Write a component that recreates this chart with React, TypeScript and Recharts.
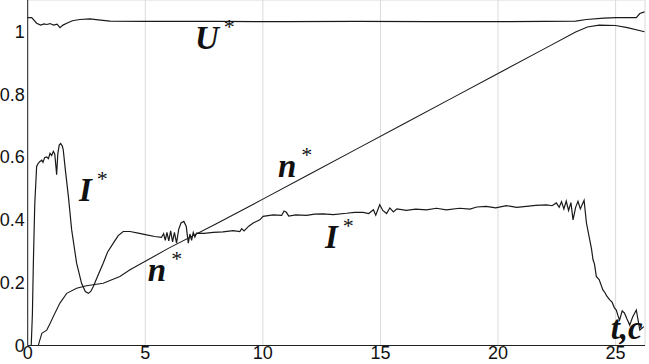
import { LineChart, Line, XAxis, YAxis, CartesianGrid, ReferenceDot } from 'recharts';

// time axis, s
const xTicks = [0, 5, 10, 15, 20, 25];
const yTicks = [0, 0.2, 0.4, 0.6, 0.8, 1];

// U* - voltage, pu
const uData = [
  [0, 1.044], [0.17, 1.044], [0.38, 1.026], [0.55, 1.02], [0.7, 1.024], [0.81, 1.022], [0.95, 1.025],
  [1.1, 1.02], [1.25, 1.023], [1.37, 1.012], [1.5, 1.02], [1.66, 1.026], [1.9, 1.034], [2.22, 1.038],
  [2.65, 1.04], [3.0, 1.037], [3.5, 1.033], [5, 1.032], [8, 1.032], [11, 1.031], [14, 1.032],
  [17.1, 1.031], [20, 1.031], [22, 1.032], [23.3, 1.033], [23.76, 1.038], [24.5, 1.042], [25.03, 1.044],
  [25.88, 1.044], [26.03, 1.057], [26.23, 1.062],
].map(([t, v]) => ({ t, v }));

// n* - speed, pu
const nData = [
  [0, 0], [0.45, 0], [0.6, 0.039], [0.81, 0.049], [0.95, 0.07], [1.09, 0.092], [1.37, 0.135],
  [1.66, 0.166], [2.08, 0.182], [2.5, 0.19], [3.21, 0.198], [3.92, 0.22], [4.35, 0.241], [6, 0.31],
  [8, 0.387], [10, 0.466], [12, 0.546], [14, 0.626], [16, 0.706], [18, 0.786], [20, 0.866],
  [22, 0.946], [23.3, 0.998], [23.8, 1.014], [24.3, 1.02], [25.0, 1.019], [25.5, 1.012], [26.23, 0.999],
].map(([t, v]) => ({ t, v }));

// I* - current, pu
const iData = [
  [0, 0], [0.15, 0], [0.2, 0.1], [0.24, 0.26], [0.3, 0.45], [0.38, 0.57], [0.45, 0.58], [0.52, 0.586],
  [0.6, 0.59], [0.65, 0.583], [0.72, 0.598], [0.81, 0.6], [0.88, 0.595], [0.95, 0.612], [1.02, 0.605],
  [1.09, 0.618], [1.15, 0.61], [1.2, 0.57], [1.23, 0.544], [1.28, 0.61], [1.34, 0.638], [1.4, 0.643],
  [1.47, 0.635], [1.51, 0.624], [1.6, 0.56], [1.73, 0.475], [1.87, 0.368], [2.08, 0.262], [2.29, 0.198],
  [2.45, 0.172], [2.58, 0.166], [2.68, 0.172], [2.79, 0.188], [3.0, 0.225], [3.21, 0.262], [3.4, 0.298],
  [3.64, 0.326], [3.85, 0.35], [4.06, 0.363], [4.35, 0.363], [4.7, 0.358], [5.06, 0.352], [5.4, 0.347],
  [5.69, 0.344], [5.78, 0.356], [5.85, 0.335], [5.92, 0.36], [6.0, 0.333], [6.08, 0.365], [6.16, 0.33],
  [6.24, 0.36], [6.33, 0.326], [6.42, 0.37], [6.52, 0.39], [6.64, 0.395], [6.74, 0.38], [6.83, 0.326],
  [6.9, 0.355], [6.97, 0.335], [7.04, 0.36], [7.11, 0.345], [7.18, 0.358], [7.5, 0.357], [7.89, 0.36],
  [8.3, 0.362], [8.74, 0.366], [9.02, 0.363], [9.1, 0.372], [9.2, 0.365], [9.4, 0.38], [9.59, 0.39],
  [9.87, 0.4], [10.01, 0.411], [10.44, 0.416], [10.8, 0.414], [10.9, 0.428], [11.0, 0.424], [11.1, 0.412],
  [11.4, 0.416], [11.86, 0.414], [12.2, 0.418], [12.56, 0.419], [13.0, 0.417], [13.56, 0.421],
  [13.9, 0.424], [14.26, 0.424], [14.5, 0.42], [14.7, 0.432], [14.8, 0.415], [14.97, 0.448], [15.1, 0.43],
  [15.26, 0.42], [15.4, 0.438], [15.55, 0.425], [15.7, 0.435], [16.1, 0.43], [16.5, 0.434], [16.96, 0.432],
  [17.38, 0.437], [17.8, 0.432], [18.37, 0.437], [18.8, 0.434], [19.1, 0.441], [19.5, 0.443], [19.9, 0.438],
  [20.36, 0.445], [20.8, 0.44], [21.2, 0.443], [21.6, 0.446], [22.06, 0.448], [22.3, 0.445], [22.48, 0.454],
  [22.6, 0.44], [22.7, 0.458], [22.8, 0.435], [22.9, 0.46], [23.0, 0.43], [23.1, 0.455], [23.19, 0.4],
  [23.3, 0.44], [23.4, 0.459], [23.5, 0.435], [23.6, 0.452], [23.66, 0.462], [23.76, 0.39], [23.9, 0.336],
  [23.97, 0.31], [24.04, 0.273], [24.1, 0.26], [24.18, 0.22], [24.3, 0.21], [24.46, 0.177], [24.55, 0.168],
  [24.62, 0.158], [24.75, 0.145], [24.85, 0.138], [24.95, 0.12], [25.03, 0.113], [25.1, 0.095],
  [25.17, 0.081], [25.28, 0.11], [25.38, 0.103], [25.48, 0.085], [25.6, 0.065], [25.72, 0.09],
  [25.88, 0.113], [26.03, 0.049], [26.2, 0.06],
].map(([t, v]) => ({ t, v }));

// curve labels, anchored at the baseline start (data coords)
const labels = [
  { t: 7.11, v: 0.943, main: 'U', star: true },
  { t: 2.18, v: 0.459, main: 'I', star: true },
  { t: 5.11, v: 0.204, main: 'n', star: true },
  { t: 10.64, v: 0.537, main: 'n', star: true },
  { t: 12.64, v: 0.311, main: 'I', star: true },
  { t: 24.79, v: 0.021, main: 't,c', star: false },
];

const lineColor = '#1a1a1a';
const tickFont = { fontFamily: 'Liberation Sans, Arial, sans-serif', fontSize: 18, fill: '#111' };

function CurveLabel(props: any) {
  const { viewBox, main, star } = props;
  const x = viewBox?.x ?? viewBox?.cx ?? 0;
  const y = viewBox?.y ?? viewBox?.cy ?? 0;
  return (
    <text x={x} y={y} fontFamily="Liberation Serif, Times New Roman, serif" fontStyle="italic"
      fontWeight="bold" fontSize={33} fill="#111">
      {main}
      {star && <tspan fontSize={22} fontWeight="normal" fontStyle="normal" dx={5} dy={-15}>*</tspan>}
    </text>
  );
}

export default function App() {
  return (
    <div style={{ position: 'absolute', left: 0, top: 0, background: '#fff' }}>
      <LineChart width={649} height={364} margin={{ top: 0, right: 4, left: 0, bottom: 0 }}>
        <CartesianGrid stroke="#dadada" />
        <XAxis dataKey="t" type="number" domain={[0, 26.25]} ticks={xTicks} allowDataOverflow
          height={18.5} tickLine={false} tickSize={0} tickMargin={1} stroke="#222" tick={tickFont} />
        <YAxis yAxisId="l" type="number" domain={[0, 1.1]} ticks={yTicks} allowDataOverflow
          width={27.7} tickLine={false} tickSize={0} tickMargin={3} stroke="#222" tick={tickFont} />
        <YAxis yAxisId="r" orientation="right" mirror type="number" domain={[0, 1.1]} ticks={yTicks}
          width={0} tickSize={4} stroke="#888" tick={() => <g />} />
        <Line yAxisId="l" data={uData} dataKey="v" stroke={lineColor} strokeWidth={1.2} dot={false}
          isAnimationActive={false} />
        <Line yAxisId="l" data={nData} dataKey="v" stroke={lineColor} strokeWidth={1.1} dot={false}
          isAnimationActive={false} />
        <Line yAxisId="l" data={iData} dataKey="v" stroke={lineColor} strokeWidth={1.2} dot={false}
          isAnimationActive={false} />
        {labels.map((l, i) => (
          <ReferenceDot key={i} yAxisId="l" x={l.t} y={l.v} r={0} stroke="none" fill="none"
            label={(p: any) => <CurveLabel {...p} main={l.main} star={l.star} />} />
        ))}
      </LineChart>
    </div>
  );
}
